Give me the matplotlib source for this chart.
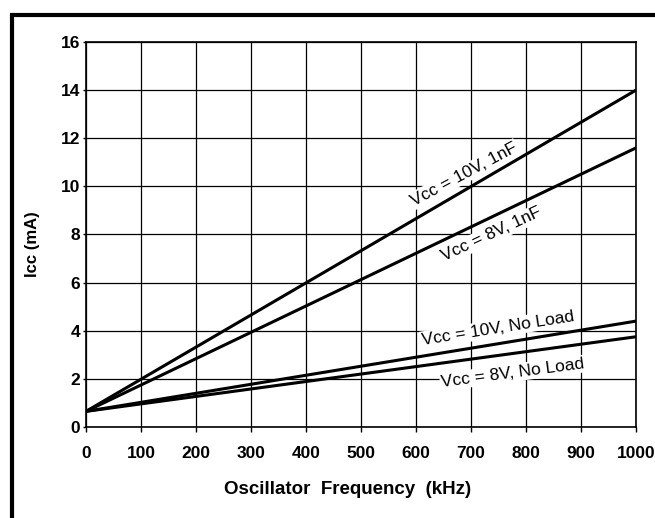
import matplotlib.pyplot as plt
from matplotlib.patches import Rectangle

plt.rcParams['font.family'] = ['Liberation Sans', 'DejaVu Sans']

# data (straight lines, start and end points)
freq = [0, 1000]
icc_10v_1nf = [0.65, 14.0]
icc_8v_1nf = [0.65, 11.6]
icc_10v_noload = [0.65, 4.4]
icc_8v_noload = [0.65, 3.75]

series = [icc_10v_1nf, icc_8v_1nf, icc_10v_noload, icc_8v_noload]
labels = ['Vcc = 10V, 1nF', 'Vcc = 8V, 1nF', 'Vcc = 10V, No Load', 'Vcc = 8V, No Load']
# label anchor (kHz, mA) and angle
label_pos = [(687, 10.5, 28), (737, 8.0, 25), (749, 4.1, 9), (776, 2.25, 7.5)]

xticks = list(range(0, 1001, 100))
yticks = list(range(0, 17, 2))

fig = plt.figure(figsize=(6.55, 5.18), dpi=100)
ax = fig.add_axes([0.1313, 0.1757, 0.8397, 0.7432])

# grid
for x in xticks:
    ax.axvline(x, color='black', lw=0.9, zorder=1)
for y in yticks:
    ax.axhline(y, color='black', lw=0.9, zorder=1)

for s in series:
    ax.plot(freq, s, color='black', lw=2.2, zorder=3, solid_capstyle='butt')

for (x, y, ang), txt in zip(label_pos, labels):
    ax.text(x, y, txt, rotation=ang, rotation_mode='anchor', ha='center', va='center',
            fontsize=12.5, zorder=4,
            bbox=dict(facecolor='white', edgecolor='none', pad=1.0))

ax.set_xlim(0, 1000)
ax.set_ylim(0, 16)
ax.set_xticks(xticks)
ax.set_yticks(yticks)
ax.tick_params(axis='x', direction='out', length=3.6, width=1, pad=10,
               labelsize=12.5)
ax.tick_params(axis='y', direction='out', length=2.2, width=1, pad=2.2,
               labelsize=12.5)
for lab in ax.get_xticklabels() + ax.get_yticklabels():
    lab.set_fontweight('bold')
for sp in ax.spines.values():
    sp.set_linewidth(1.2)

fig.text(33 / 655, 1 - 244 / 518, 'Icc (mA)', rotation=90, ha='center', va='center',
         fontsize=12, fontweight='bold')
fig.text(348 / 655, 1 - 490 / 518, 'Oscillator  Frequency  (kHz)', ha='center',
         va='center', fontsize=13.5, fontweight='bold')

# outer frame of the scanned figure (runs off right and bottom edges)
fig.patches.append(Rectangle((12 / 655, -0.1), 1.2, 1 - 15 / 518 + 0.1,
                             transform=fig.transFigure, fill=False,
                             edgecolor='black', lw=3, zorder=0))

fig.savefig('out.png', dpi=100)
